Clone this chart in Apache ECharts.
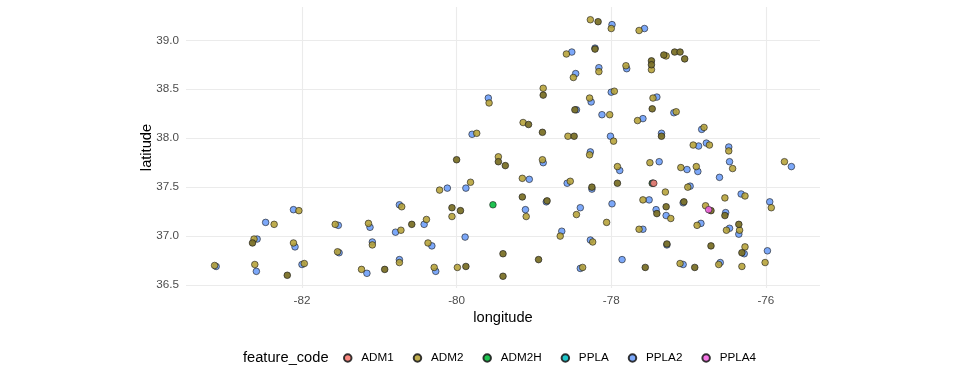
<!DOCTYPE html>
<html>
<head>
<meta charset="utf-8">
<script src="https://cdn.jsdelivr.net/npm/echarts@6/dist/echarts.min.js"></script>
<style>html,body{margin:0;padding:0;background:#fff}#c{width:960px;height:384px}</style>
</head>
<body>
<div id="c"></div>
<script>
// ---- data (longitude, latitude) ----
const categories = ['ADM1', 'ADM2', 'ADM2H', 'PPLA', 'PPLA2', 'PPLA4'];
const xTicks = [-82, -80, -78, -76];
const yTicks = [36.5, 37.0, 37.5, 38.0, 38.5, 39.0];

const adm1 = [[-77.45, 37.54]];
const adm2H = [[-79.53, 37.32]];
const ppla = [[-77.46, 37.54]];
const ppla4 = [[-76.74, 37.27]];

const adm2 = [
  [-83.13,36.70],[-82.61,36.71],[-82.62,36.97],[-82.36,37.12],[-82.04,37.26],[-82.11,36.93],
  [-81.97,36.72],[-81.57,37.12],[-81.54,36.84],[-81.14,37.13],[-81.09,36.91],[-81.23,36.66],
  [-80.71,37.30],[-80.72,37.06],[-80.74,36.73],[-80.39,37.17],[-80.37,36.93],[-80.29,36.68],
  [-80.22,37.47],[-80.06,37.20],[-79.99,36.68],[-79.82,37.55],[-79.74,38.05],[-79.58,38.36],
  [-79.46,37.81],[-79.15,37.59],[-79.10,37.20],[-79.14,38.16],[-78.88,38.51],[-78.89,37.78],
  [-78.66,37.00],[-78.58,38.86],[-78.56,38.02],[-78.53,37.56],[-78.49,38.62],[-78.45,37.22],
  [-78.37,36.68],[-78.27,39.21],[-78.16,38.68],[-78.28,38.41],[-78.02,38.24],[-78.28,37.83],
  [-78.24,36.94],[-78.06,37.14],[-78.00,39.12],[-77.96,38.48],[-77.97,37.97],[-77.92,37.71],
  [-77.81,38.74],[-77.64,39.10],[-77.66,38.18],[-77.59,37.37],[-77.64,37.07],[-77.48,38.70],
  [-77.46,38.41],[-77.50,37.75],[-77.29,38.84],[-77.16,38.27],[-77.30,37.45],[-77.23,37.18],
  [-77.10,37.70],[-77.01,37.50],[-77.11,36.72],[-76.94,37.93],[-76.90,37.71],[-76.89,37.11],
  [-76.80,38.11],[-76.73,37.93],[-76.78,37.31],[-76.61,36.71],[-76.53,37.39],[-76.51,37.06],
  [-76.48,37.87],[-76.43,37.69],[-76.34,37.06],[-76.27,37.41],[-76.27,36.89],[-76.31,36.69],
  [-76.01,36.73],[-75.93,37.29],[-75.76,37.76]
];
// ADM2 locations where several records overlap (drawn darker)
const adm2Stacked = [
  [-82.19,36.60],[-82.64,36.93],[-80.93,36.66],[-80.58,37.12],[-80.00,37.78],[-80.06,37.29],
  [-79.95,37.26],[-79.88,36.69],[-79.46,37.76],[-79.37,37.72],[-79.40,36.82],[-79.40,36.59],
  [-79.15,37.40],[-79.07,38.14],[-78.94,36.76],[-78.88,38.44],[-78.89,38.06],[-78.83,37.36],
  [-78.48,38.02],[-78.47,38.29],[-78.17,39.19],[-78.21,38.91],[-78.25,37.50],[-77.92,37.54],
  [-77.56,36.68],[-77.48,38.79],[-77.48,38.75],[-77.47,38.30],[-77.47,37.54],[-77.35,38.02],
  [-77.41,37.23],[-77.32,38.85],[-77.18,38.88],[-77.11,38.88],[-77.05,38.81],[-77.29,37.30],
  [-77.28,36.92],[-77.06,37.35],[-76.92,36.68],[-76.71,37.26],[-76.71,36.90],[-76.53,37.21],
  [-76.35,37.12],[-76.31,36.83]
];

const ppla2 = [
  [-83.11,36.69],[-82.59,36.64],[-82.58,36.97],[-82.47,37.14],[-82.11,37.27],[-82.09,36.89],
  [-82.00,36.71],[-81.53,37.11],[-81.52,36.83],[-81.12,37.09],[-81.09,36.94],[-81.16,36.62],
  [-80.74,37.32],[-80.79,37.04],[-80.74,36.76],[-80.42,37.12],[-80.32,36.90],[-80.27,36.64],
  [-80.12,37.49],[-79.89,36.99],[-79.88,37.49],[-79.80,38.04],[-79.59,38.41],[-79.06,37.58],
  [-79.11,37.27],[-78.88,37.75],[-78.84,37.35],[-78.64,37.05],[-78.51,38.88],[-78.57,37.54],
  [-78.46,38.66],[-78.45,38.29],[-78.40,37.29],[-78.40,36.67],[-78.21,38.92],[-78.16,38.72],
  [-78.26,38.37],[-78.12,38.24],[-78.27,37.86],[-78.25,37.48],[-78.27,36.96],[-77.99,39.16],
  [-78.00,38.47],[-78.01,38.02],[-77.89,37.67],[-77.99,37.33],[-77.86,36.76],[-77.80,38.71],
  [-77.57,39.12],[-77.59,38.20],[-77.51,37.37],[-77.59,37.07],[-77.41,38.42],[-77.38,37.76],
  [-77.35,38.05],[-77.42,37.27],[-77.19,38.26],[-77.29,37.21],[-77.28,36.91],[-77.02,37.68],
  [-76.98,37.51],[-77.07,37.34],[-77.07,36.71],[-76.87,37.92],[-76.88,37.66],[-76.84,37.13],
  [-76.83,38.09],[-76.77,37.95],[-76.59,36.73],[-76.60,37.60],[-76.52,37.24],[-76.47,37.08],
  [-76.48,37.91],[-76.47,37.76],[-76.35,37.02],[-76.32,37.43],[-76.28,36.82],[-75.98,36.85],
  [-75.95,37.35],[-75.67,37.71]
];

// ---- styling ----
const colors = {ADM1:'#F8766D', ADM2:'#B5A035', ADM2H:'#00BA38', PPLA:'#00BFC4', PPLA2:'#6A9CF8', PPLA4:'#F564E3'};
const FONT = 'Liberation Sans, Arial, Helvetica, sans-serif';

function pointSeries(name, data) {
  return {
    name: name,
    type: 'scatter',
    data: data,
    symbol: 'circle',
    symbolSize: 6.6,
    itemStyle: { color: colors[name], borderColor: '#1a1a1a', borderWidth: 0.7, opacity: 0.88 },
    emphasis: { disabled: true },
    animation: false
  };
}

const adm2Data = adm2.map(p => p).concat(adm2Stacked.map(p => ({ value: p, itemStyle: { color: '#7b7128', opacity: 0.95 } })));

const chart = echarts.init(document.getElementById('c'), null, { renderer: 'canvas' });
chart.setOption({
  backgroundColor: '#ffffff',
  animation: false,
  grid: { left: 186, right: 140, top: 7, bottom: 96, containLabel: false },
  xAxis: {
    type: 'value', min: -83.5, max: -75.3,
    name: 'longitude', nameLocation: 'middle', nameGap: 22, nameMoveOverlap: false,
    nameTextStyle: { fontFamily: FONT, fontSize: 14.67, color: '#000' },
    axisLine: { show: false },
    axisTick: { show: false, customValues: xTicks },
    axisLabel: { customValues: xTicks, margin: 7, color: '#4D4D4D', fontFamily: FONT, fontSize: 11.7, formatter: v => String(v) },
    splitLine: { show: true, customValues: xTicks, lineStyle: { color: '#EBEBEB', width: 1.1 } }
  },
  yAxis: {
    type: 'value', min: 36.47, max: 39.34,
    name: 'latitude', nameLocation: 'middle', nameGap: 32, nameRotate: 90, nameMoveOverlap: false,
    nameTextStyle: { fontFamily: FONT, fontSize: 14.67, color: '#000' },
    axisLine: { show: false },
    axisTick: { show: false, customValues: yTicks },
    axisLabel: { customValues: yTicks, margin: 7, color: '#4D4D4D', fontFamily: FONT, fontSize: 11.7, formatter: v => v.toFixed(1) },
    splitLine: { show: true, customValues: yTicks, lineStyle: { color: '#EBEBEB', width: 1.1 } }
  },
  legend: {
    data: categories.map(c => ({ name: c, icon: 'circle' })),
    left: 338, top: 347,
    itemWidth: 17, itemHeight: 7.5, itemGap: 19,
    textStyle: { fontFamily: FONT, fontSize: 11.7, color: '#000' },
    selectedMode: false
  },
  graphic: [{
    type: 'text', x: 243, y: 358,
    style: { text: 'feature_code', fontFamily: FONT, fontSize: 14.67, fill: '#000', verticalAlign: 'middle' }
  }],
  series: [
    pointSeries('PPLA2', ppla2),
    pointSeries('ADM2', adm2Data),
    pointSeries('ADM2H', adm2H),
    pointSeries('PPLA', ppla),
    pointSeries('ADM1', adm1),
    pointSeries('PPLA4', ppla4)
  ]
});
</script>
</body>
</html>
